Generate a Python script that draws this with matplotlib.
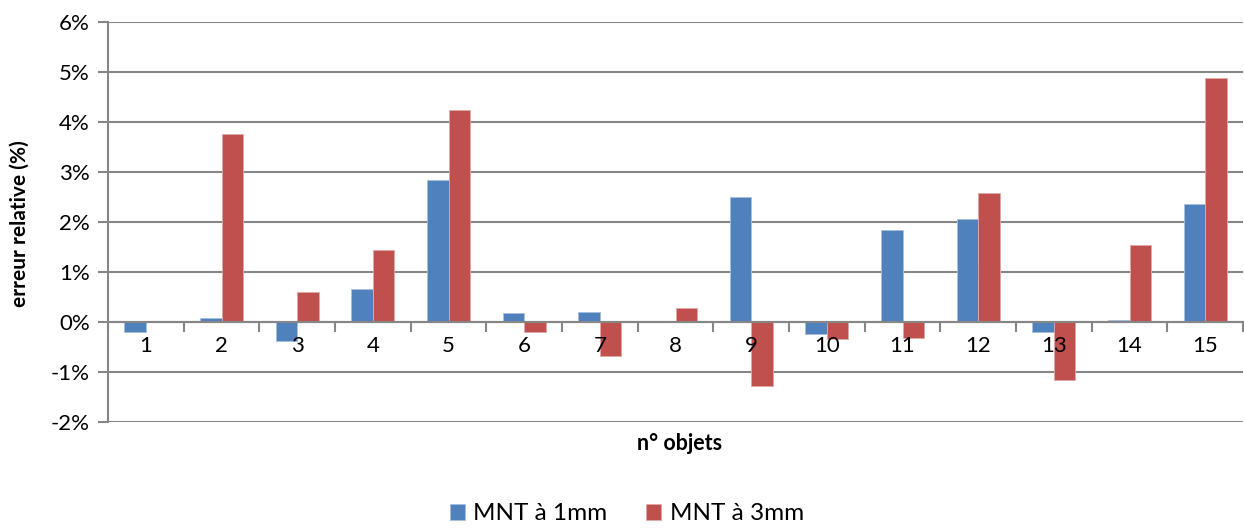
import numpy as np
import matplotlib
matplotlib.use("Agg")
import matplotlib.pyplot as plt
from matplotlib.ticker import FuncFormatter, FixedLocator

objets = list(range(1, 16))
mnt_1mm = [-0.19, 0.09, -0.38, 0.67, 2.84, 0.19, 0.21, 0.0, 2.51, -0.23, 1.85, 2.06, -0.19, 0.05, 2.37]
mnt_3mm = [0.0, 3.76, 0.61, 1.45, 4.24, -0.20, -0.68, 0.29, -1.28, -0.34, -0.32, 2.58, -1.15, 1.55, 4.89]
series_names = ["MNT à 1mm", "MNT à 3mm"]
y_ticks = [-2, -1, 0, 1, 2, 3, 4, 5, 6]

blue = "#4F81BD"
red = "#C0504D"
grid_c = "#868686"

plt.rcParams["font.family"] = ["Lato", "DejaVu Sans"]

fig = plt.figure(figsize=(12.44, 5.28), dpi=100)
ax = fig.add_axes([108 / 1244, (528 - 422) / 528, (1243 - 108) / 1244, 400 / 528])

x = np.arange(len(objets))
w = 0.285
# bars under the axis (zorder 2.5) so the category labels stay on top like in Excel
ax.bar(x - w / 2, mnt_1mm, w, color=blue, edgecolor="#A7C0DE", linewidth=0.6, label=series_names[0], zorder=2)
ax.bar(x + w / 2, mnt_3mm, w, color=red, edgecolor="#E0A9A8", linewidth=0.6, label=series_names[1], zorder=2)

ax.set_xlim(-0.5, len(objets) - 0.5)
ax.set_ylim(-2, 6)
ax.set_yticks(y_ticks)
ax.yaxis.set_major_formatter(FuncFormatter(lambda v, p: f"{v:.0f}%"))
ax.grid(axis="y", color=grid_c, lw=1.5)
ax.set_axisbelow(True)

# x axis crosses at zero, ticks between categories
ax.spines["bottom"].set_position(("data", 0))
ax.spines["bottom"].set_color(grid_c)
ax.spines["bottom"].set_linewidth(1.5)
ax.spines["bottom"].set_zorder(3)
ax.spines["left"].set_color(grid_c)
ax.spines["left"].set_linewidth(1.5)
ax.spines["top"].set_visible(False)
ax.spines["right"].set_visible(False)

ax.xaxis.set_major_locator(FixedLocator(np.arange(-0.5, len(objets), 1.0)))
ax.xaxis.set_major_formatter(FuncFormatter(lambda v, p: ""))
ax.xaxis.set_minor_locator(FixedLocator(x))
ax.set_xticklabels([str(o) for o in objets], minor=True)
ax.xaxis.set_zorder(3)
ax.tick_params(axis="x", which="major", direction="out", length=7, width=1.5, color=grid_c)
ax.tick_params(axis="x", which="minor", length=0, pad=10, labelsize=16)
ax.tick_params(axis="y", direction="out", length=7, width=1.5, color=grid_c, labelsize=16, pad=6)

fig.text(680 / 1244, 1 - 444 / 528, "n° objets", ha="center", va="center", fontsize=15.5, fontweight="bold")
fig.text(20 / 1244, 1 - 224 / 528, "erreur relative (%)", ha="center", va="center", rotation=90,
         fontsize=15, fontweight="bold")

fig.legend(loc="center", bbox_to_anchor=(627 / 1244, 1 - 514 / 528), ncol=2, frameon=False,
           fontsize=17.5, handlelength=0.6, handleheight=0.6, handletextpad=0.35, columnspacing=1.6)

fig.savefig("out.png", dpi=100, facecolor="white")
